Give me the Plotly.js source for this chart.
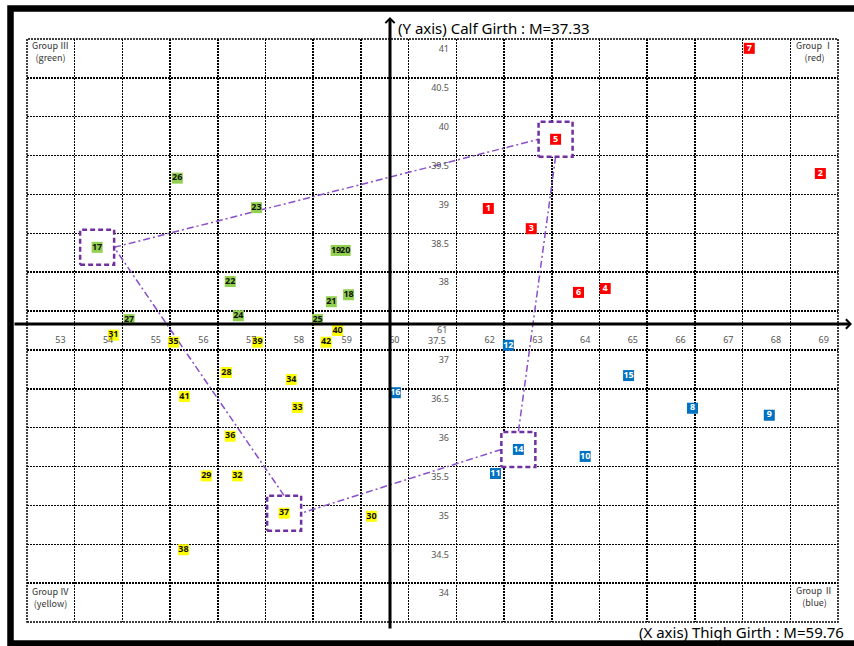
<!DOCTYPE html>
<html><head><meta charset="utf-8">
<script src="https://cdn.plot.ly/plotly-3.0.1.min.js"></script>
<style>html,body{margin:0;padding:0;background:#fff}#chart{width:854px;height:646px}</style>
</head><body><div id="chart"></div>
<script>
// ---- data ----
const MEAN_X = 59.76, MEAN_Y = 37.33;
const X_TICKS = [53,54,55,56,57,58,59,60,62,63,64,65,66,67,68,69];
const X_RAISED_TICK = 61;
const Y_TICKS = [34,34.5,35,35.5,36,36.5,37,38,38.5,39,39.5,40,40.5,41];
const Y_DISPLACED_TICK = 37.5;

const RED_ID = [1,2,3,4,5,6,7];
const RED_X  = [61.97,68.93,62.87,64.42,63.38,63.86,67.44];
const RED_Y  = [38.95,39.40,38.69,37.92,39.84,37.87,41.01];

const BLUE_ID = [8,9,10,11,12,13,14,15,16];
const BLUE_X  = [66.25,67.86,64.00,62.12,62.39,69.35,62.60,64.91,60.02];
const BLUE_Y  = [36.38,36.29,35.76,35.54,37.19,36.79,35.85,36.80,36.58];

const GREEN_ID = [17,18,19,20,21,22,23,24,25,26,27];
const GREEN_X  = [53.77,59.04,58.78,58.97,58.68,56.56,57.11,56.73,58.39,55.45,54.44];
const GREEN_Y  = [38.45,37.84,38.41,38.41,37.75,38.01,38.96,37.57,37.52,39.34,37.52];

const YELLOW_ID = [28,29,30,31,32,33,34,35,36,37,38,39,40,41,42];
const YELLOW_X  = [56.48,56.06,59.52,54.11,56.71,57.97,57.84,55.37,56.56,57.69,55.58,57.13,58.81,55.60,58.57];
const YELLOW_Y  = [36.84,35.51,34.99,37.32,35.51,36.39,36.75,37.23,36.02,35.03,34.56,37.23,37.38,36.53,37.23];

const CENTROID_IDS = [17, 5, 14, 37];

(function () {
// ---- layout constants ----
const W = 854, H = 646, ML = 27, MR = 16, MT = 39, MB = 24;
const PW = W - ML - MR, PH = H - MT - MB;
const XR = [52.3, 69.3], YR = [33.63, 41.13];
const px2x = p => (p - ML) / PW;
const py2y = p => (H - MB - p) / PH;
const BOX_DX = 17 / (PW / (XR[1] - XR[0]));
const BOX_DY = 17.5 / (PH / (YR[1] - YR[0]));

const groups = [
  {id: RED_ID, x: RED_X, y: RED_Y, color: '#FF0000', tc: '#FFFFFF'},
  {id: BLUE_ID, x: BLUE_X, y: BLUE_Y, color: '#0070C0', tc: '#FFFFFF'},
  {id: GREEN_ID, x: GREEN_X, y: GREEN_Y, color: '#92D050', tc: '#111111'},
  {id: YELLOW_ID, x: YELLOW_X, y: YELLOW_Y, color: '#FFFF00', tc: '#111111'}
];
function findPt(id) {
  for (const g of groups) { const i = g.id.indexOf(id); if (i >= 0) return [g.x[i], g.y[i]]; }
}
const C = CENTROID_IDS.map(findPt);
const eR = p => [p[0] + BOX_DX, p[1]], eL = p => [p[0] - BOX_DX, p[1]];
const eT = p => [p[0], p[1] + BOX_DY], eB = p => [p[0], p[1] - BOX_DY];
const segs = [[eR(C[0]), eL(C[1])], [eB(C[1]), eT(C[2])], [eL(C[2]), eR(C[3])], [eT(C[3]), eR(C[0])]];
const lx = [], ly = [];
segs.forEach(s => { lx.push(s[0][0], s[1][0], null); ly.push(s[0][1], s[1][1], null); });
const bx = [], by = [];
C.forEach(p => {
  bx.push(p[0]-BOX_DX, p[0]+BOX_DX, p[0]+BOX_DX, p[0]-BOX_DX, p[0]-BOX_DX, null);
  by.push(p[1]-BOX_DY, p[1]-BOX_DY, p[1]+BOX_DY, p[1]+BOX_DY, p[1]-BOX_DY, null);
});

const traces = [
  {x: lx, y: ly, mode: 'lines', line: {color: '#8A4FC8', width: 1.5, dash: '7px,3px,2px,3px'}, hoverinfo: 'skip', showlegend: false},
  {x: bx, y: by, mode: 'lines', fill: 'toself', fillcolor: '#FFFFFF', line: {color: '#7030A0', width: 2.5, dash: '5px,3px'}, hoverinfo: 'skip', showlegend: false}
];
groups.forEach(g => traces.push({
  x: g.x, y: g.y, text: g.id.map(String), mode: 'markers+text', textposition: 'middle center',
  marker: {symbol: 'square', size: 11, color: g.color, line: {width: 0}},
  textfont: {family: 'Noto Sans', size: 9, color: g.tc, weight: 'bold'},
  cliponaxis: false, showlegend: false
}));
traces.push({x: [X_TICKS[0]], y: [Y_TICKS[0]], xaxis: 'x2', yaxis: 'y2', mode: 'markers', marker: {opacity: 0}, hoverinfo: 'skip', showlegend: false});

const tickFont = {family: 'Noto Sans', size: 9, color: '#555'};
const grpFont = {family: 'Noto Sans CJK KR', size: 9, color: '#333'};
const grid = {showgrid: true, gridcolor: '#000', gridwidth: 1.5, griddash: '2px,1px', zeroline: false, showline: false, ticks: '', showticklabels: false, fixedrange: true};

const layout = {
  width: W, height: H, margin: {l: ML, r: MR, t: MT, b: MB},
  paper_bgcolor: '#fff', plot_bgcolor: '#fff', showlegend: false,
  xaxis: Object.assign({range: XR, tick0: XR[0], dtick: 1}, grid),
  yaxis: Object.assign({range: YR, tick0: YR[0], dtick: 0.5}, grid),
  xaxis2: {overlaying: 'x', anchor: 'free', position: py2y(324), range: XR, tickmode: 'array', tickvals: X_TICKS, ticktext: X_TICKS.map(String),
           showgrid: false, zeroline: false, showline: false, ticks: '', tickfont: tickFont, ticklabelstandoff: 9},
  yaxis2: {overlaying: 'y', anchor: 'free', side: 'left', position: px2x(449), range: YR, tickmode: 'array', tickvals: Y_TICKS, ticktext: Y_TICKS.map(String),
           showgrid: false, zeroline: false, showline: false, ticks: '', tickfont: tickFont},
  shapes: [
    {type: 'rect', xref: 'paper', yref: 'paper', x0: 0, x1: 1, y0: 0, y1: 1, layer: 'below', line: {color: '#000', width: 1.5, dash: '2px,1px'}},
    {type: 'rect', xref: 'paper', yref: 'paper', x0: px2x(10.5), x1: px2x(862), y0: py2y(643.5), y1: py2y(8.5), line: {color: '#000', width: 6.5}}
  ],
  annotations: [
    {xref: 'paper', yref: 'paper', x: px2x(390), y: py2y(17), ax: 0, ay: 613, text: '', showarrow: true, arrowhead: 4, arrowwidth: 3, arrowsize: 0.6, arrowcolor: '#000'},
    {xref: 'paper', yref: 'paper', x: px2x(852), y: py2y(324), ax: 13 - 852, ay: 0, text: '', showarrow: true, arrowhead: 4, arrowwidth: 3, arrowsize: 0.6, arrowcolor: '#000'},
    {xref: 'paper', yref: 'paper', x: px2x(396), y: py2y(28), xanchor: 'left', yanchor: 'middle', showarrow: false,
     text: '(Y axis) Calf Girth : M=' + MEAN_Y.toFixed(2), font: {family: 'Noto Sans', size: 15, color: '#000'}},
    {xref: 'paper', yref: 'paper', x: px2x(846), y: py2y(632), xanchor: 'right', yanchor: 'middle', showarrow: false,
     text: '(X axis) Thigh Girth : M=' + MEAN_X.toFixed(2), font: {family: 'Noto Sans', size: 15, color: '#000'}},
    {xref: 'x', yref: 'paper', x: X_RAISED_TICK, y: py2y(329), xanchor: 'center', yanchor: 'middle', showarrow: false, text: String(X_RAISED_TICK), font: tickFont},
    {xref: 'paper', yref: 'paper', x: px2x(448), y: py2y(340), xanchor: 'right', yanchor: 'middle', showarrow: false, text: String(Y_DISPLACED_TICK), font: tickFont},
    {xref: 'paper', yref: 'paper', x: px2x(50), y: py2y(51), xanchor: 'center', yanchor: 'middle', showarrow: false, text: 'Group Ⅲ<br>(green)', font: grpFont},
    {xref: 'paper', yref: 'paper', x: px2x(814), y: py2y(51), xanchor: 'center', yanchor: 'middle', showarrow: false, text: 'Group Ⅰ<br>(red)', font: grpFont},
    {xref: 'paper', yref: 'paper', x: px2x(50), y: py2y(597), xanchor: 'center', yanchor: 'middle', showarrow: false, text: 'Group Ⅳ<br>(yellow)', font: grpFont},
    {xref: 'paper', yref: 'paper', x: px2x(814), y: py2y(596), xanchor: 'center', yanchor: 'middle', showarrow: false, text: 'Group Ⅱ<br>(blue)', font: grpFont}
  ]
};
Plotly.newPlot('chart', traces, layout, {staticPlot: true, displayModeBar: false});
})();
</script></body></html>
